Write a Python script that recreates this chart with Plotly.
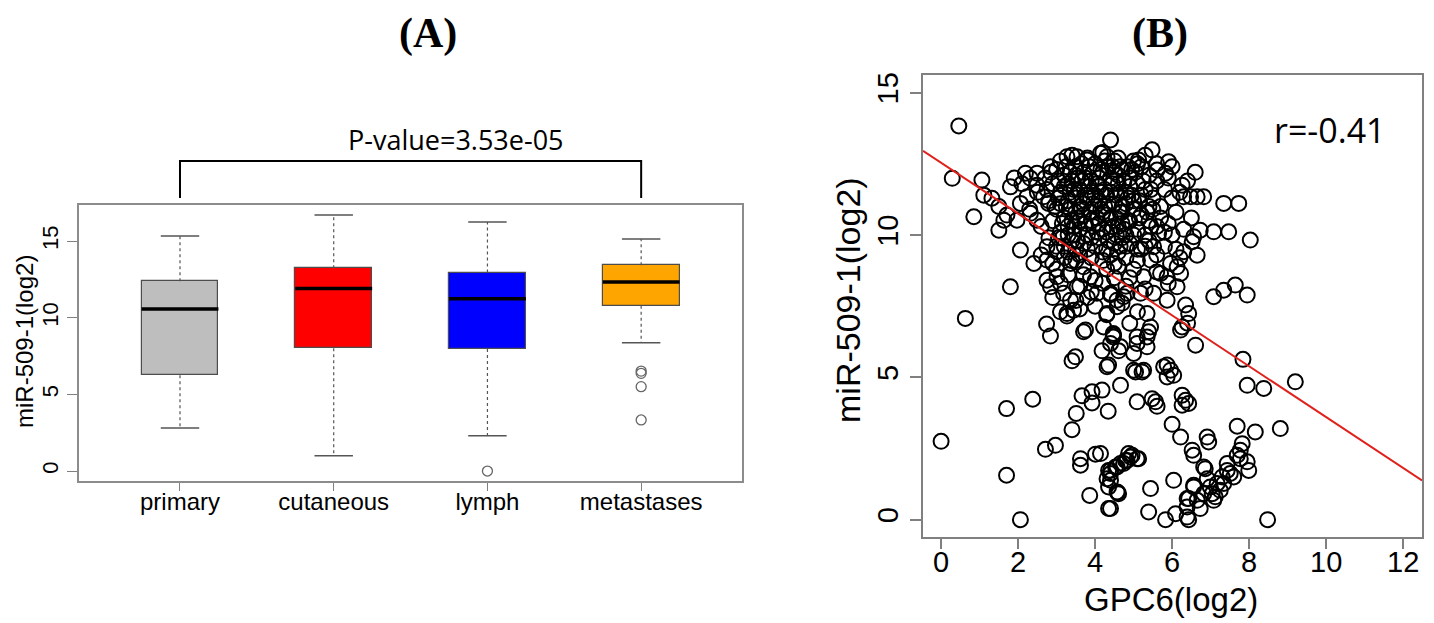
import plotly.graph_objects as go

# ---------------- data: panel A (box plot) ----------------
categories = ["primary", "cutaneous", "lymph", "metastases"]
box_colors = ["#BEBEBE", "#FF0000", "#0000FF", "#FFA500"]
lower_whisker = [2.8, 1.0, 2.3, 8.37]
q1_values = [6.24, 8.0, 7.96, 10.78]
median_values = [10.57, 11.91, 11.24, 12.33]
q3_values = [12.37, 13.22, 12.94, 13.42]
upper_whisker = [15.33, 16.7, 16.24, 15.13]
outlier_group = [2, 3, 3, 3, 3]
outlier_values = [0.0, 6.52, 6.37, 5.5, 3.33]
p_value_text = "P-value=3.53e-05"

# ---------------- data: panel B (scatter) ----------------
scatter_xy = [
    (0.46, 13.83), (0.29, 11.99), (1.06, 11.93), (1.11, 11.40), (1.32, 11.29), (0.85, 10.64),
    (1.50, 10.17), (1.80, 11.69), (1.71, 10.70), (1.63, 10.52), (2.06, 9.47), (2.41, 9.00),
    (1.80, 8.18), (0.63, 7.07), (0.0, 2.75), (1.70, 3.90), (2.38, 4.23), (1.70, 1.56),
    (2.06, 0.0), (2.71, 2.47), (2.97, 2.61), (3.40, 3.16), (3.51, 3.73), (3.66, 4.35),
    (3.92, 4.49), (4.18, 4.55), (3.92, 4.10), (4.34, 3.81), (4.66, 4.72), (3.62, 2.14),
    (3.62, 1.91), (4.01, 2.30), (3.86, 0.85), (4.35, 0.39), (4.35, 1.15), (4.40, 1.62),
    (4.59, 0.95), (4.57, 1.85), (4.74, 1.97), (4.87, 2.32), (3.49, 5.72), (3.40, 5.58),
    (4.18, 5.93), (4.61, 5.93), (4.35, 5.43), (4.31, 5.37), (2.84, 6.45), (3.70, 6.60),
    (4.48, 6.48), (2.74, 6.87), (3.27, 7.15), (3.44, 7.36), (3.75, 6.66), (4.47, 6.54),
    (4.47, 6.42), (2.19, 12.17), (2.32, 11.99), (2.49, 12.17), (2.49, 11.75), (2.66, 11.34),
    (2.79, 11.11), (2.23, 11.34), (2.06, 11.11), (2.32, 10.76), (2.49, 10.52), (1.97, 10.52),
    (2.84, 12.40), (3.27, 12.75), (3.53, 12.75), (3.79, 12.63), (4.14, 12.87), (4.40, 13.34),
    (4.31, 12.75), (2.75, 9.59), (3.01, 9.41), (2.75, 9.12), (3.36, 9.00), (2.75, 8.41),
    (2.84, 8.18), (3.01, 8.53), (3.18, 7.95), (3.36, 7.71), (3.53, 8.18), (3.70, 8.88),
    (3.88, 8.53), (4.05, 7.95), (4.40, 7.95), (4.57, 7.48), (4.74, 7.83), (3.27, 7.24),
    (5.48, 12.99), (5.13, 12.63), (5.91, 12.57), (5.61, 12.28), (5.83, 12.17), (6.26, 11.75),
    (6.30, 11.34), (6.48, 11.34), (6.65, 11.34), (6.82, 11.34), (7.34, 11.11), (7.73, 11.11),
    (7.08, 10.11), (7.47, 10.11), (8.03, 9.82), (6.73, 10.17), (6.56, 9.94), (6.52, 9.76),
    (6.65, 9.29), (6.30, 9.41), (7.08, 7.83), (7.34, 8.06), (7.64, 8.24), (7.95, 7.89),
    (6.13, 8.18), (6.35, 7.54), (6.43, 7.24), (6.26, 6.77), (5.96, 9.00), (6.13, 8.88),
    (6.22, 8.65), (5.87, 8.53), (5.70, 8.65), (5.44, 9.12), (5.52, 9.59), (5.65, 10.06),
    (5.26, 8.53), (5.18, 7.95), (5.52, 7.95), (5.87, 7.71), (5.35, 7.24), (5.44, 6.77),
    (5.09, 6.42), (5.35, 6.07), (5.00, 5.84), (4.66, 6.07), (4.40, 6.19), (4.22, 6.77),
    (4.31, 7.24), (4.57, 7.71), (4.83, 7.95), (5.09, 6.19), (5.39, 6.60), (5.05, 5.19),
    (5.26, 5.25), (5.87, 5.43), (5.96, 5.25), (5.87, 5.01), (6.04, 5.07), (5.09, 4.14),
    (5.48, 4.25), (5.57, 4.14), (5.61, 3.98), (6.26, 4.37), (6.35, 4.19), (6.43, 4.08),
    (6.26, 4.02), (6.22, 6.66), (6.61, 6.13), (6.40, 6.90), (5.35, 6.42), (5.78, 5.37),
    (4.40, 1.73), (4.53, 1.85), (4.66, 1.97), (4.83, 2.08), (4.92, 2.20), (5.09, 2.14),
    (4.40, 1.38), (4.57, 0.97), (5.44, 1.09), (5.39, 0.27), (5.83, 0.0), (6.09, 0.21),
    (6.39, 0.09), (6.04, 1.38), (6.00, 3.35), (6.22, 2.90), (6.52, 2.44), (6.56, 2.26),
    (6.91, 2.90), (6.95, 2.73), (6.39, 0.74), (6.56, 1.21), (6.65, 0.68), (6.82, 0.91),
    (7.04, 0.91), (7.17, 1.27), (7.30, 1.50), (7.43, 1.73), (6.82, 1.85), (6.99, 1.15),
    (7.08, 0.68), (7.84, 5.63), (7.95, 4.72), (8.38, 4.61), (9.20, 4.84), (7.69, 3.28),
    (8.16, 3.08), (8.81, 3.20), (8.48, 0.0), (7.82, 2.67), (7.77, 2.44), (7.69, 2.26),
    (7.77, 2.14), (7.95, 2.03), (7.99, 1.73), (7.43, 1.97), (7.51, 1.62), (7.60, 1.50),
    (7.34, 1.27), (7.25, 1.03), (7.12, 0.80), (6.73, 0.39), (6.56, 1.15), (6.86, 1.79),
    (6.91, 1.44), (6.43, 0.74), (6.39, 0.44), (6.43, 0.0), (4.14, 2.32), (4.35, 1.73),
    (4.79, 2.08), (4.96, 2.26), (5.13, 2.14), (4.40, 0.39), (4.61, 0.91), (4.31, 1.44),
    (5.00, 5.25), (5.22, 5.19),
    # dense core
    (2.7, 12.0), (2.9, 11.8), (3.0, 12.3), (3.1, 11.5), (3.2, 12.1), (3.3, 11.2), (3.4, 11.9),
    (3.5, 12.4), (3.6, 11.6), (3.7, 12.2), (3.8, 11.3), (3.9, 11.9), (4.0, 12.5), (4.1, 11.7),
    (4.2, 12.2), (4.3, 11.4), (4.4, 12.0), (4.5, 12.6), (4.6, 11.8), (4.7, 12.3), (4.8, 11.5),
    (4.9, 12.0), (5.0, 11.2), (5.1, 11.8), (5.2, 12.4), (5.3, 11.6), (5.4, 12.1), (5.5, 11.3),
    (5.6, 11.9), (5.7, 11.0), (5.8, 11.6), (5.9, 12.0), (6.0, 11.3), (6.1, 10.8), (6.2, 11.5),
    (2.8, 11.2), (3.0, 10.9), (3.2, 10.6), (3.3, 10.3), (3.5, 10.8), (3.6, 10.2), (3.7, 10.7),
    (3.8, 10.0), (3.9, 10.5), (4.0, 11.0), (4.1, 10.4), (4.2, 10.8), (4.3, 10.1), (4.4, 10.6),
    (4.5, 11.1), (4.6, 10.3), (4.7, 10.8), (4.8, 10.0), (4.9, 10.5), (5.0, 10.9), (5.1, 10.2),
    (5.2, 10.7), (5.3, 10.0), (5.4, 10.5), (5.5, 10.9), (5.6, 10.3), (5.7, 10.6), (5.8, 10.1),
    (5.9, 10.4), (6.0, 10.0), (2.6, 10.3), (2.8, 9.9), (3.0, 9.6), (3.1, 10.1), (3.3, 9.4),
    (3.4, 9.8), (3.6, 9.3), (3.7, 9.7), (3.9, 9.2), (4.0, 9.6), (4.2, 9.1), (4.3, 9.5),
    (4.5, 9.0), (4.6, 9.4), (4.8, 9.2), (4.9, 9.7), (5.1, 9.1), (5.2, 9.5), (5.4, 9.8),
    (5.6, 9.3), (5.8, 9.6), (6.1, 9.5), (6.3, 10.2), (3.1, 12.6), (3.4, 12.8), (3.8, 12.7),
    (4.2, 12.9), (4.6, 12.7), (5.0, 12.6), (5.3, 12.8), (3.6, 11.0), (4.0, 11.4), (4.4, 11.5),
    (4.8, 11.1), (5.2, 11.4), (3.2, 11.7), (3.5, 11.3), (4.1, 12.0), (4.6, 12.1), (5.4, 11.0),
    (3.9, 10.8), (4.7, 9.9), (4.2, 10.2), (3.4, 10.5), (3.0, 8.8), (3.3, 8.6), (3.6, 8.2),
    (3.9, 8.0), (4.2, 8.3), (4.5, 8.5), (4.8, 8.2), (5.0, 8.8), (5.3, 8.1), (4.4, 7.9),
    (4.7, 7.6), (3.8, 7.8), (3.5, 7.7), (5.6, 8.7), (5.9, 8.3), (6.2, 9.2), (6.5, 10.6),
    (6.4, 11.9), (6.6, 12.2), (6.0, 12.4), (5.6, 12.5), (2.5, 11.5), (2.3, 10.9), (2.1, 11.8),
    (1.5, 11.0), (1.9, 12.0),
    (2.75, 11.6), (2.85, 12.2), (2.95, 11.0), (3.05, 11.9), (3.15, 10.4), (3.25, 12.4),
    (3.35, 11.5), (3.45, 10.0), (3.55, 12.0), (3.65, 10.9), (3.75, 11.4), (3.85, 12.4),
    (3.95, 10.3), (4.05, 11.8), (4.15, 10.9), (4.25, 11.6), (4.35, 12.4), (4.45, 10.3),
    (4.55, 11.4), (4.65, 10.8), (4.75, 11.9), (4.85, 10.5), (4.95, 11.4), (5.05, 12.2),
    (5.15, 10.6), (5.25, 11.9), (5.35, 10.8), (5.45, 11.6), (2.9, 10.5), (3.05, 9.9),
    (3.2, 9.2), (3.35, 10.9), (3.5, 9.5), (3.65, 11.9), (3.8, 9.5), (3.95, 11.1),
    (4.1, 9.9), (4.25, 12.6), (4.4, 9.3), (4.55, 10.0), (4.7, 11.0), (4.85, 12.4),
    (5.0, 10.0), (5.15, 11.2), (5.3, 9.6), (5.45, 10.3), (3.1, 11.1), (3.3, 11.8),
    (3.5, 12.1), (3.7, 11.1), (3.9, 11.5), (4.1, 11.2), (4.3, 10.7), (4.5, 12.2),
    (4.7, 10.4), (4.9, 11.7), (5.1, 12.5), (3.3, 10.0), (3.6, 10.5), (3.9, 9.9),
    (4.2, 9.4), (4.5, 9.7), (4.8, 9.6), (5.1, 9.5), (2.9, 9.0), (3.1, 8.3), (3.4, 9.1),
    (3.7, 8.6), (4.0, 8.4), (4.3, 8.8), (4.6, 8.9), (4.9, 8.5), (3.2, 9.6), (3.5, 9.1),
    (2.6, 9.3), (2.9, 7.8), (3.6, 7.4), (4.0, 7.5), (4.3, 7.2), (5.1, 7.3), (4.9, 6.9),
    (3.1, 7.3),
    (3.25, 11.0), (3.45, 11.6), (3.55, 10.6), (3.75, 12.0), (3.85, 10.8), (4.05, 10.6),
    (4.15, 12.3), (4.35, 11.1), (4.45, 11.8), (4.55, 10.6), (4.65, 12.4), (4.75, 10.2),
    (4.85, 11.3), (4.95, 12.3), (3.35, 12.2), (3.65, 12.5), (3.95, 12.2), (4.25, 11.0),
    (4.45, 12.4), (4.65, 11.5), (3.45, 10.3), (3.75, 10.4), (4.05, 10.1), (4.35, 9.8),
    (4.65, 9.6), (3.15, 9.9), (3.05, 11.3), (3.55, 9.8), (3.85, 11.7), (4.15, 11.5),
]
gpc6_log2 = [p[0] for p in scatter_xy]
mir509_log2 = [p[1] for p in scatter_xy]
fit_intercept = 12.54
fit_slope = -0.894
r_text = "r=-0.41"

# ---------------- layout geometry (reference pixels) ----------------
PAGE_OFFSET = 8            # default body margin of the html page
FIG_W, FIG_H = 1434 - PAGE_OFFSET, 623 - PAGE_OFFSET
A_X = (79, 742)
A_Y = (205, 481)
B_X = (923, 1422)
B_Y = (75, 537)
A_XRANGE = [-0.657, 3.656]
A_YRANGE = [-0.65, 17.35]
B_XRANGE = [-0.47, 12.49]
B_YRANGE = [-0.61, 15.62]


def px(x):
    return (x - PAGE_OFFSET) / FIG_W


def py(y):
    return 1 - (y - PAGE_OFFSET) / FIG_H


def a_cat_to_paper(c):
    frac = (c - A_XRANGE[0]) / (A_XRANGE[1] - A_XRANGE[0])
    return px(A_X[0] + frac * (A_X[1] - A_X[0]))


fig = go.Figure()

pos = list(range(len(categories)))
GRAY = "#555555"

# boxes
fig.add_trace(go.Bar(
    x=pos, y=[q3 - q1 for q1, q3 in zip(q1_values, q3_values)], base=q1_values,
    width=0.5, marker=dict(color=box_colors, line=dict(color="#4d4d4d", width=1.2)),
    xaxis="x", yaxis="y", showlegend=False, hoverinfo="skip"))

# whiskers (dashed)
wx, wy = [], []
for i in pos:
    wx += [i, i, None, i, i, None]
    wy += [q3_values[i], upper_whisker[i], None, q1_values[i], lower_whisker[i], None]
fig.add_trace(go.Scatter(x=wx, y=wy, mode="lines", line=dict(color=GRAY, width=1.2, dash="3px,3px"),
                         xaxis="x", yaxis="y", showlegend=False, hoverinfo="skip"))

# caps
cx, cy = [], []
for i in pos:
    for v in (upper_whisker[i], lower_whisker[i]):
        cx += [i - 0.125, i + 0.125, None]
        cy += [v, v, None]
fig.add_trace(go.Scatter(x=cx, y=cy, mode="lines", line=dict(color=GRAY, width=1.5),
                         xaxis="x", yaxis="y", showlegend=False, hoverinfo="skip"))

# medians
mx, my = [], []
for i in pos:
    mx += [i - 0.25, i + 0.25, None]
    my += [median_values[i], median_values[i], None]
fig.add_trace(go.Scatter(x=mx, y=my, mode="lines", line=dict(color="black", width=3.5),
                         xaxis="x", yaxis="y", showlegend=False, hoverinfo="skip"))

# outliers
fig.add_trace(go.Scatter(x=outlier_group, y=outlier_values, mode="markers",
                         marker=dict(symbol="circle-open", size=10, color="#666666",
                                     line=dict(width=1.3, color="#666666")),
                         xaxis="x", yaxis="y", showlegend=False, hoverinfo="skip"))

# scatter
fig.add_trace(go.Scatter(x=gpc6_log2, y=mir509_log2, mode="markers",
                         marker=dict(symbol="circle-open", size=15, color="black",
                                     line=dict(width=2, color="black")),
                         xaxis="x2", yaxis="y2", showlegend=False, hoverinfo="skip"))

# regression line
lx = B_XRANGE
fig.add_trace(go.Scatter(x=lx, y=[fit_intercept + fit_slope * v for v in lx], mode="lines",
                         line=dict(color="#E0201B", width=2),
                         xaxis="x2", yaxis="y2", showlegend=False, hoverinfo="skip"))

axis_common = dict(showgrid=False, zeroline=False, showline=True, mirror=True,
                   ticks="outside", tickcolor="#808080", automargin=False)

fig.update_layout(
    width=FIG_W, height=FIG_H, margin=dict(l=0, r=0, t=0, b=0),
    paper_bgcolor="white", plot_bgcolor="white",
    font=dict(family="Liberation Sans, Arial, sans-serif", color="black"),
    xaxis=dict(domain=[px(A_X[0]), px(A_X[1])], anchor="y", range=A_XRANGE,
               tickvals=pos, ticktext=categories, ticklen=8, tickwidth=1.3,
               ticklabelstandoff=-10,
               linecolor="#8c8c8c", linewidth=1.5, tickfont=dict(size=24), **axis_common),
    yaxis=dict(domain=[py(A_Y[1]), py(A_Y[0])], anchor="x", range=A_YRANGE,
               tickvals=[0, 5, 10, 15], tickangle=-90, ticklen=10, tickwidth=1.3,
               linecolor="#8c8c8c", linewidth=1.5, tickfont=dict(size=22), **axis_common),
    xaxis2=dict(domain=[px(B_X[0]), px(B_X[1])], anchor="y2", range=B_XRANGE,
                tickvals=[0, 2, 4, 6, 8, 10, 12], ticklen=10, tickwidth=1.5,
                ticklabelstandoff=-12,
                linecolor="#808080", linewidth=2, tickfont=dict(size=29), **axis_common),
    yaxis2=dict(domain=[py(B_Y[1]), py(B_Y[0])], anchor="x2", range=B_YRANGE,
                tickvals=[0, 5, 10, 15], tickangle=-90, ticklen=11, tickwidth=1.5,
                linecolor="#808080", linewidth=2, tickfont=dict(size=29), **axis_common),
    bargap=0,
)

annotations = [
    dict(text="<b>(A)</b>", x=px(428), y=py(33), font=dict(family="Liberation Serif", size=42)),
    dict(text="<b>(B)</b>", x=px(1160), y=py(33), font=dict(family="Liberation Serif", size=42)),
    dict(text=p_value_text, x=px(456), y=py(139), font=dict(family="Open Sans", size=27)),
    dict(text=r_text, x=px(1330), y=py(130), font=dict(family="Open Sans", size=34)),
    dict(text="miR-509-1(log2)", x=px(24), y=py(342), textangle=-90, font=dict(size=24)),
    dict(text="miR-509-1(log2)", x=px(848), y=py(300), textangle=-90, font=dict(size=34)),
    dict(text="GPC6(log2)", x=px(1171), y=py(599), font=dict(size=33)),
]
for a in annotations:
    a.update(xref="paper", yref="paper", showarrow=False, xanchor="center", yanchor="middle")
fig.update_layout(annotations=annotations)

# significance bracket
x1 = a_cat_to_paper(0)
x2 = a_cat_to_paper(len(categories) - 1)
yt, yb = py(161), py(198)
fig.add_shape(type="path", xref="paper", yref="paper",
              path=f"M {x1},{yb} L {x1},{yt} L {x2},{yt} L {x2},{yb}",
              line=dict(color="black", width=2))

fig.write_html("out.html")
